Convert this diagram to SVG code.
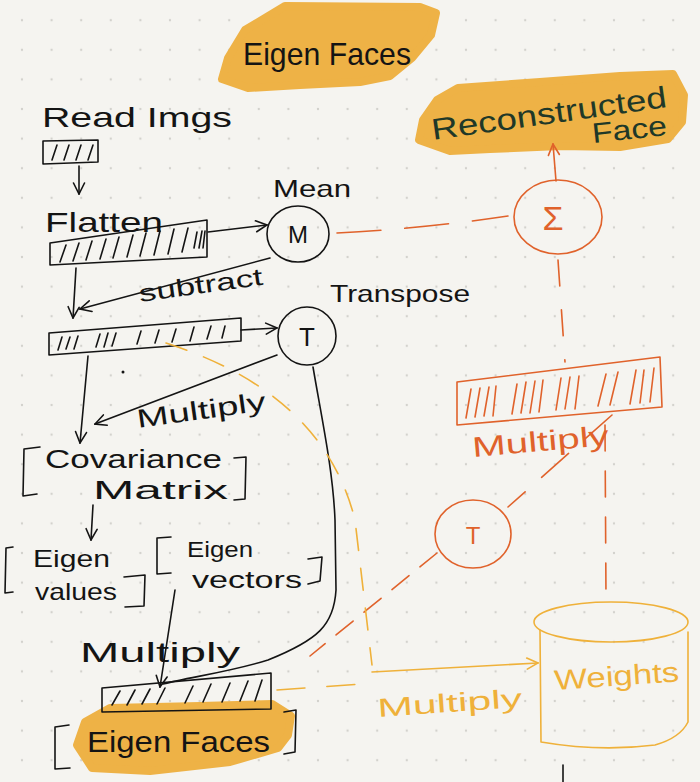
<svg xmlns="http://www.w3.org/2000/svg" width="700" height="782" viewBox="0 0 700 782">
<style>
text{font-family:"Liberation Sans","DejaVu Sans",sans-serif;fill:#141414}
.k{fill:none;stroke:#141414;stroke-width:1.6;stroke-linecap:round;stroke-linejoin:round}
.o{fill:none;stroke:#e0622b;stroke-width:1.6;stroke-linecap:round;stroke-linejoin:round}
.y{fill:none;stroke:#efb13a;stroke-width:1.6;stroke-linecap:round;stroke-linejoin:round}
.hl{fill:#eeb246;stroke:#eeb246;stroke-width:8;stroke-linejoin:round}
.ot{fill:#e0622b}
.yt{fill:#efb13a}
.gt{fill:#203828}
</style>
<defs>
<pattern id="dots" patternUnits="userSpaceOnUse" x="7.2" y="5.4" width="29.6" height="29.6">
<circle cx="14.8" cy="14.8" r="1.2" fill="#d3d2cd"/>
</pattern>
<marker id="ak" viewBox="0 0 14 14" refX="13" refY="7" markerWidth="14" markerHeight="14" markerUnits="userSpaceOnUse" orient="auto"><path d="M2,1.5 L13,7 L2,12.5" fill="none" stroke="#141414" stroke-width="1.6" stroke-linecap="round"/></marker>
<marker id="ao" viewBox="0 0 14 14" refX="13" refY="7" markerWidth="14" markerHeight="14" markerUnits="userSpaceOnUse" orient="auto"><path d="M2,1.5 L13,7 L2,12.5" fill="none" stroke="#e0622b" stroke-width="1.6" stroke-linecap="round"/></marker>
<marker id="ay" viewBox="0 0 14 14" refX="13" refY="7" markerWidth="14" markerHeight="14" markerUnits="userSpaceOnUse" orient="auto"><path d="M2,1.5 L13,7 L2,12.5" fill="none" stroke="#efb13a" stroke-width="1.6" stroke-linecap="round"/></marker>
</defs>
<rect width="700" height="782" fill="#f5f4f0"/>
<rect width="700" height="782" fill="url(#dots)"/>

<g id="title">
<path class="hl" d="M245,30 L285,6 L420,7 L436,13 L431,35 L412,58 L390,76 L360,82 L300,85 L248,88 L222,79 L228,58 Z"/>
<text x="243" y="65" font-size="32" textLength="168" lengthAdjust="spacingAndGlyphs">Eigen Faces</text>
</g>

<g id="read-imgs">
<text x="42" y="127" font-size="28" textLength="190" lengthAdjust="spacingAndGlyphs">Read Imgs</text>
<path class="k" d="M43,141 L98,140 L98,162 L43,164 Z M52,160 L57,145 M64,160 L69,145 M76,160 L81,145 M88,160 L93,145"/>
</g>

<g id="flatten">
<text x="45" y="232" font-size="28" textLength="118" lengthAdjust="spacingAndGlyphs">Flatten</text>
<path class="k" d="M50,243 L207,220 L207,257 L50,265 Z"/>
<path class="k" d="M60,262 L66,245 M73,261 L79,243 M86,260 L92,241 M100,259 L106,239 M113,258 L119,237 M127,257 L133,235 M140,256 L146,233 M154,255 L160,231 M168,254 L174,229 M182,252 L188,228 M194,248 L197,232 M199,248 L202,231 M203,248 L205,231"/>
</g>

<g id="mean">
<text x="273" y="197" font-size="24" textLength="78" lengthAdjust="spacingAndGlyphs">Mean</text>
<ellipse class="k" cx="298" cy="234" rx="31" ry="28"/>
<text x="298" y="243" font-size="24" text-anchor="middle">M</text>
</g>

<g id="subtracted">
<path class="k" d="M49,333 L241,318 L241,341 L49,355 Z"/>
<path class="k" d="M58,350 L62,337 M66,349 L70,337 M74,349 L78,336 M96,347 L100,334 M104,347 L108,333 M112,346 L116,333 M137,344 L141,331 M155,343 L159,330 M172,342 L176,329 M190,341 L194,327 M207,339 L211,326 M222,338 L225,326"/>
<circle cx="123" cy="372" r="1.5" fill="#141414"/>
</g>

<g id="transpose">
<text x="330" y="302" font-size="24" textLength="140" lengthAdjust="spacingAndGlyphs">Transpose</text>
<circle class="k" cx="307" cy="336" r="29"/>
<text x="307" y="346" font-size="26" text-anchor="middle">T</text>
</g>

<g id="covariance">
<path class="k" d="M40,447 L24,449 L23,496 L37,494"/>
<text x="45" y="468" font-size="25" textLength="177" lengthAdjust="spacingAndGlyphs">Covariance</text>
<text x="93" y="499" font-size="25" textLength="135" lengthAdjust="spacingAndGlyphs">Matrix</text>
<path class="k" d="M234,458 L246,457 L245,499 L234,500"/>
</g>

<g id="eigenvalues">
<path class="k" d="M13,547 L6,548 L5,593 L13,592"/>
<text x="33" y="567" font-size="24" textLength="77" lengthAdjust="spacingAndGlyphs">Eigen</text>
<text x="35" y="600" font-size="24" textLength="82" lengthAdjust="spacingAndGlyphs">values</text>
<path class="k" d="M124,577 L145,575 L144,606 L125,607"/>
</g>

<g id="eigenvectors">
<path class="k" d="M171,537 L157,538 L157,574 L171,573"/>
<text x="187" y="557" font-size="22" textLength="66" lengthAdjust="spacingAndGlyphs">Eigen</text>
<text x="192" y="588" font-size="24" textLength="110" lengthAdjust="spacingAndGlyphs">vectors</text>
<path class="k" d="M308,559 L322,557 L320,581 L308,584"/>
</g>

<g id="eigenfaces">
<path class="hl" d="M85,722 L110,708 L200,706 L272,704 L291,716 L288,735 L278,748 L230,762 L150,771 L92,768 L77,745 Z"/>
<path class="k" d="M102,688 L271,673 L271,709 L102,712 Z"/>
<path class="k" d="M112,705 L120,691 M127,705 L135,690 M142,704 L150,689 M157,704 L165,688 M185,703 L193,686 M203,702 L211,684 M222,702 L230,683 M240,701 L248,681 M255,701 L262,680"/>
<path class="k" d="M69,725 L55,727 L55,769 L70,768"/>
<text x="87" y="752" font-size="30" textLength="183" lengthAdjust="spacingAndGlyphs">Eigen Faces</text>
<path class="k" d="M284,712 L296,710 L295,752 L284,754"/>
</g>

<g id="reconstructed">
<path class="hl" d="M437,100 L458,88 L540,82 L620,76 L673,74 L684,95 L682,122 L668,139 L620,147 L560,146 L490,149 L450,151 L419,140 L423,120 Z"/>
<text class="gt" x="433" y="140" font-size="30" textLength="237" lengthAdjust="spacingAndGlyphs" transform="rotate(-8 433 140)">Reconstructed</text>
<text class="gt" x="593" y="143" font-size="28" textLength="75" lengthAdjust="spacingAndGlyphs" transform="rotate(-6 593 143)">Face</text>
</g>

<g id="sum">
<ellipse class="o" cx="558" cy="217" rx="44" ry="37"/>
<text class="ot" x="553" y="230" font-size="34" text-anchor="middle">Σ</text>
</g>

<g id="multiply-orange">
<path class="o" d="M457,382 L660,357 L662,407 L457,425 Z"/>
<path class="o" d="M466,418 L471,389 M475,417 L480,388 M484,416 L489,387 M493,416 L496,386 M512,414 L517,384 M521,413 L526,382 M530,413 L535,381 M539,412 L543,380 M556,410 L561,378 M565,409 L570,377 M575,409 L579,376 M598,406 L606,374 M610,405 L618,372 M630,404 L636,370 M640,403 L644,370 M650,402 L654,368"/>
<text class="ot" x="473" y="457" font-size="28" textLength="137" lengthAdjust="spacingAndGlyphs" transform="rotate(-5 473 457)">Multiply</text>
</g>

<g id="transpose-orange">
<ellipse class="o" cx="473" cy="534" rx="38" ry="34"/>
<text class="ot" x="473" y="544" font-size="24" text-anchor="middle">T</text>
</g>

<g id="weights">
<ellipse class="y" cx="611" cy="622" rx="77" ry="20"/>
<path class="y" d="M540,630 L541,742 Q600,752 655,745 Q680,738 688,722 L688,632"/>
<text class="yt" x="555" y="690" font-size="28" textLength="125" lengthAdjust="spacingAndGlyphs" transform="rotate(-4 555 690)">Weights</text>
</g>

<g id="connectors">
<path class="k" d="M79,166 L79,194" marker-end="url(#ak)"/>
<path class="k" d="M208,232 L267,225" marker-end="url(#ak)"/>
<path class="k" d="M270,258 L80,309" marker-end="url(#ak)"/>
<path class="k" d="M76,268 L73,318" marker-end="url(#ak)"/>
<path class="k" d="M241,330 L277,328" marker-end="url(#ak)"/>
<path class="k" d="M277,355 L95,424" marker-end="url(#ak)"/>
<path class="k" d="M88,356 L80,443" marker-end="url(#ak)"/>
<path class="k" d="M93,505 L91,540" marker-end="url(#ak)"/>
<path class="k" d="M175,590 L160,687" marker-end="url(#ak)"/>
<path class="k" d="M313,367 C322,420 333,470 335,520 L336,590 C334,625 318,640 268,660 C230,672 190,677 163,684"/>
<path class="k" d="M563,765 L563,782"/>
<path class="o" stroke-dasharray="44 24" d="M337,233 Q420,229 508,216"/>
<path class="o" d="M556,181 L553,144" marker-end="url(#ao)"/>
<path class="o" stroke-dasharray="26 24" d="M558,260 L565,362"/>
<path class="o" stroke-dasharray="36 22" d="M612,415 L508,507"/>
<path class="o" stroke-dasharray="22 14" d="M437,553 L310,656"/>
<path class="o" stroke-dasharray="26 20" d="M605,425 L606,598"/>
<path class="y" stroke-dasharray="22 18" d="M166,343 C250,370 330,420 355,520 L372,665"/>
<path class="y" d="M372,672 L538,663" marker-end="url(#ay)"/>
<path class="y" stroke-dasharray="28 22" d="M277,690 L362,684"/>
</g>

<g id="labels">
<text x="140" y="302" font-size="24" textLength="125" lengthAdjust="spacingAndGlyphs" transform="rotate(-8 140 302)">subtract</text>
<text x="138" y="428" font-size="26" textLength="130" lengthAdjust="spacingAndGlyphs" transform="rotate(-8 138 428)">Multiply</text>
<text x="80" y="662" font-size="28" textLength="160" lengthAdjust="spacingAndGlyphs">Multiply</text>
<text class="yt" x="378" y="717" font-size="26" textLength="145" lengthAdjust="spacingAndGlyphs" transform="rotate(-4 378 717)">Multiply</text>
</g>
</svg>
